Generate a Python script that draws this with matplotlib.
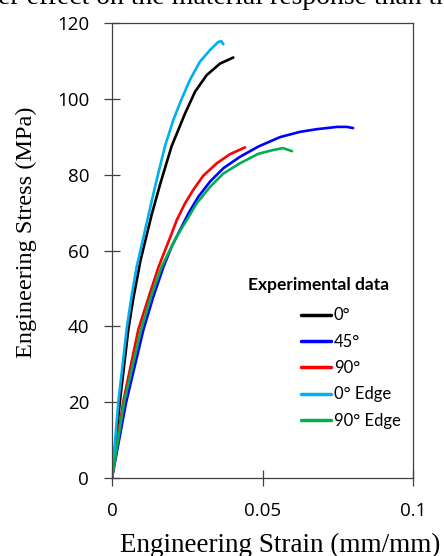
import matplotlib
matplotlib.use("Agg")
import matplotlib.pyplot as plt

# ---- data ----
strain_0 = [0, 0.0026, 0.0054, 0.0070, 0.0095, 0.0132, 0.0160, 0.0198, 0.0243, 0.0276, 0.0315, 0.0359, 0.0403]
stress_0 = [0, 20, 39, 47, 57.5, 69.5, 77.5, 87.5, 96.2, 101.9, 106.3, 109.3, 110.9]

strain_45 = [0, 0.0047, 0.0104, 0.0136, 0.0171, 0.0198, 0.0226, 0.0254, 0.0287, 0.0326, 0.0370, 0.0425,
             0.0486, 0.0558, 0.0625, 0.0681, 0.0748, 0.0780, 0.0801]
stress_45 = [0, 20, 39, 47.5, 55.7, 61.0, 65.4, 69.8, 74.2, 78.2, 81.7, 84.7,
             87.4, 89.9, 91.3, 92.0, 92.6, 92.6, 92.3]

strain_90 = [0, 0.0037, 0.0087, 0.0125, 0.0154, 0.0171, 0.0193, 0.0215, 0.0243, 0.0270, 0.0303,
             0.0348, 0.0392, 0.0442]
stress_90 = [0, 20, 39, 48.5, 55.5, 59.0, 63.4, 68.0, 72.5, 76.0, 79.7, 83.0, 85.4, 87.2]

strain_0e = [0, 0.0021, 0.0049, 0.0066, 0.0082, 0.0115, 0.0148, 0.0176, 0.0204, 0.0231, 0.0259,
             0.0292, 0.0326, 0.0353, 0.0363, 0.0370]
stress_0e = [0, 20, 39.5, 48.5, 55.7, 67.2, 78.5, 87.5, 94.5, 99.9, 105.0,
             109.8, 112.9, 115.0, 115.2, 114.4]

strain_90e = [0, 0.0040, 0.0096, 0.0130, 0.0165, 0.0187, 0.0215, 0.0248, 0.0281, 0.0326, 0.0370, 0.0425,
              0.0486, 0.0535, 0.0568, 0.0598]
stress_90e = [0, 20, 39, 48, 55.7, 59.3, 63.7, 68.0, 72.4, 76.8, 80.3, 83.0,
              85.5, 86.5, 87.0, 86.2]

series_labels = ["0°", "45°", "90°", "0° Edge", "90° Edge"]
series_colors = ["#000000", "#0000FF", "#FF0000", "#00B0F0", "#00B050"]

x_ticks = [0, 0.05, 0.1]
x_tick_labels = ["0", "0.05", "0.1"]
y_ticks = [0, 20, 40, 60, 80, 100, 120]

fig = plt.figure(figsize=(4.44, 5.56), dpi=100)
ax = fig.add_axes([112/444, 1-478/556, 301/444, 455/556])

data = [(strain_0, stress_0), (strain_45, stress_45), (strain_90, stress_90),
        (strain_0e, stress_0e), (strain_90e, stress_90e)]
for (xs, ys), lab, col in zip(data, series_labels, series_colors):
    ax.plot(xs, ys, color=col, lw=1.9, label=lab, solid_capstyle="round",
            solid_joinstyle="round")

ax.set_xlim(0, 0.1)
ax.set_ylim(0, 120)
ax.set_xticks(x_ticks)
ax.set_xticklabels(x_tick_labels)
ax.set_yticks(y_ticks)

tick_font = "Open Sans"
for lab in ax.get_xticklabels() + ax.get_yticklabels():
    lab.set_fontfamily(tick_font)
    lab.set_fontsize(13.5)

ax.tick_params(axis="both", direction="inout", length=11, width=0.9, color="#404040",
               labelcolor="black")
ax.tick_params(axis="y", pad=11)
ax.tick_params(axis="x", pad=11.5)
for sp in ax.spines.values():
    sp.set_color("#404040")
    sp.set_linewidth(0.9)

ax.set_xlabel("Engineering Strain (mm/mm)", fontfamily="Liberation Serif", fontsize=19.5)
ax.xaxis.set_label_coords((280-112)/301, (478-552)/455)
ax.xaxis.label.set_va("baseline")
ax.set_ylabel("Engineering Stress (MPa)", fontfamily="Liberation Serif", fontsize=17.5)
ax.yaxis.set_label_coords((26-112)/301, (478-232)/455)
ax.yaxis.label.set_va("center")

ax.text((248-112)/301, (478-285)/455, "Experimental data", transform=ax.transAxes,
        fontfamily="Lato", fontweight="bold", fontsize=12.5, va="center", ha="left")
leg = ax.legend(loc="upper left", bbox_to_anchor=((293-112)/301, (478-299)/455),
                frameon=False, borderpad=0, handlelength=1.75, handletextpad=0.2,
                labelspacing=0.62, prop={"family": "Lato", "size": 12})
for h in leg.get_lines():
    h.set_linewidth(2.5)

fig.text(-0.005, 1-4/556, "er effect on the material response than th",
         fontfamily="Liberation Serif", fontsize=20, ha="left", va="baseline")

fig.savefig("out.png", dpi=100)
